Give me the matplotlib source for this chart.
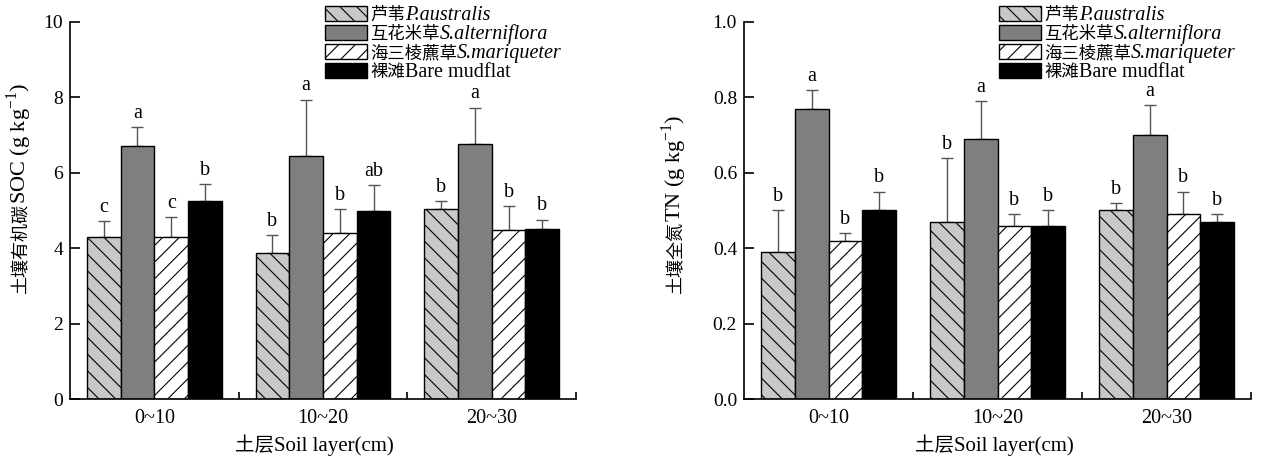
import numpy as np
import matplotlib
matplotlib.use('Agg')
from matplotlib import pyplot as plt
from matplotlib.patches import Rectangle

plt.rcParams['font.family'] = ['Liberation Serif', 'Noto Sans CJK SC', 'DejaVu Serif']
plt.rcParams['mathtext.fontset'] = 'custom'
plt.rcParams['mathtext.rm'] = 'Liberation Serif'
plt.rcParams['hatch.linewidth'] = 0.8

W, H = 1272, 461

# soil layers and species (chinese name, latin name)
layers = ['0~10', '10~20', '20~30']
species_cn = ['芦苇', '互花米草', '海三棱藨草', '裸滩']
species_lat = ['P.australis', 'S.alterniflora', 'S.mariqueter', 'Bare mudflat']

# soil organic carbon (g/kg), upper error and letters
soc_pa = [4.30, 3.86, 5.05]
soc_sa = [6.72, 6.45, 6.77]
soc_sm = [4.31, 4.40, 4.47]
soc_bm = [5.25, 4.98, 4.51]
soc_pa_err = [0.43, 0.48, 0.20]
soc_sa_err = [0.49, 1.49, 0.96]
soc_sm_err = [0.51, 0.64, 0.64]
soc_bm_err = [0.44, 0.69, 0.25]
soc_pa_let = ['c', 'b', 'b']
soc_sa_let = ['a', 'a', 'a']
soc_sm_let = ['c', 'b', 'b']
soc_bm_let = ['b', 'ab', 'b']

# total nitrogen (g/kg)
tn_pa = [0.39, 0.47, 0.50]
tn_sa = [0.77, 0.69, 0.70]
tn_sm = [0.42, 0.46, 0.49]
tn_bm = [0.50, 0.46, 0.47]
tn_pa_err = [0.11, 0.17, 0.02]
tn_sa_err = [0.05, 0.10, 0.08]
tn_sm_err = [0.02, 0.03, 0.06]
tn_bm_err = [0.05, 0.04, 0.02]
tn_pa_let = ['b', 'b', 'b']
tn_sa_let = ['a', 'a', 'a']
tn_sm_let = ['b', 'b', 'b']
tn_bm_let = ['b', 'b', 'b']

colors = ['#c8c8c8', '#7f7f7f', 'white', 'black']
hatches = ['\\\\', '', '//', '']


# chinese + latin text in different sizes, placed one after the other (pixel coords from top-left)
def mixed_text(fig, x, y, parts, rotation=0):
    renderer = fig.canvas.get_renderer()
    for s, size, style in parts:
        t = fig.text(x / W, 1 - y / H, s, fontsize=size, fontstyle=style,
                     rotation=rotation, rotation_mode='anchor', ha='left', va='baseline')
        bb = t.get_window_extent(renderer)
        if rotation == 0:
            x += bb.width
        else:
            y -= bb.height


def draw_panel(ax, series, errs, lets, ymax, yticks, fmt):
    x = np.arange(len(layers))
    width = 0.2
    for k in range(4):
        pos = x + (k - 1.5) * width
        ax.errorbar(pos, series[k], yerr=[np.zeros(3), errs[k]], fmt='none',
                    ecolor='#555555', elinewidth=1, capsize=4, capthick=1, zorder=1)
        ax.bar(pos, series[k], width, color=colors[k], edgecolor='black',
               linewidth=1, hatch=hatches[k], zorder=2)
        for i in range(3):
            ax.annotate(lets[k][i], (pos[i], series[k][i] + errs[k][i]),
                        xytext=(0, 3), textcoords='offset points',
                        ha='center', va='bottom', fontsize=14.5)
    ax.set_xlim(-0.5, 2.5)
    ax.set_ylim(0, ymax)
    ax.set_yticks(yticks)
    ax.set_yticklabels([fmt % t for t in yticks])
    ax.set_xticks(x)
    ax.set_xticklabels(layers)
    ax.set_xticks([0.5, 1.5, 2.5], minor=True)
    ax.tick_params(axis='x', which='major', length=0, pad=7, labelsize=14.5)
    ax.tick_params(axis='x', which='minor', direction='in', length=5, width=1.2)
    ax.tick_params(axis='y', direction='in', length=7, width=1.2, labelsize=14, pad=5)
    for s in ['top', 'right']:
        ax.spines[s].set_visible(False)
    for s in ['left', 'bottom']:
        ax.spines[s].set_linewidth(1.2)


def draw_legend(fig, x0):
    for r in range(4):
        yc = 14 + 19 * r
        rect = Rectangle((x0 / W, 1 - (yc + 7.5) / H), 42 / W, 15 / H,
                         transform=fig.transFigure, facecolor=colors[r],
                         edgecolor='black', linewidth=1, hatch=hatches[r])
        fig.add_artist(rect)
        style = 'italic' if r < 3 else 'normal'
        mixed_text(fig, x0 + 45, yc + 6,
                   [(species_cn[r], 12.5, 'normal'), (species_lat[r], 14.5, style)])


fig = plt.figure(figsize=(W / 100, H / 100), dpi=100)
ax1 = fig.add_axes([70 / W, 1 - 399 / H, 506 / W, 377 / H])
ax2 = fig.add_axes([744 / W, 1 - 399 / H, 507 / W, 377 / H])

draw_panel(ax1, [soc_pa, soc_sa, soc_sm, soc_bm],
           [soc_pa_err, soc_sa_err, soc_sm_err, soc_bm_err],
           [soc_pa_let, soc_sa_let, soc_sm_let, soc_bm_let],
           10, [0, 2, 4, 6, 8, 10], '%d')
draw_panel(ax2, [tn_pa, tn_sa, tn_sm, tn_bm],
           [tn_pa_err, tn_sa_err, tn_sm_err, tn_bm_err],
           [tn_pa_let, tn_sa_let, tn_sm_let, tn_bm_let],
           1.0, [0, 0.2, 0.4, 0.6, 0.8, 1.0], '%.1f')

draw_legend(fig, 325)
draw_legend(fig, 999)

# axis titles
mixed_text(fig, 26, 294, [('土壤有机碳', 13, 'normal'), ('SOC (g kg$^{-1}$)', 16, 'normal')], rotation=90)
mixed_text(fig, 681, 294, [('土壤全氮', 13, 'normal'), ('TN (g kg$^{-1}$)', 16, 'normal')], rotation=90)
mixed_text(fig, 235, 451, [('土层', 14, 'normal'), ('Soil layer(cm)', 15, 'normal')])
mixed_text(fig, 915, 451, [('土层', 14, 'normal'), ('Soil layer(cm)', 15, 'normal')])

plt.savefig('out.png', dpi=100)
